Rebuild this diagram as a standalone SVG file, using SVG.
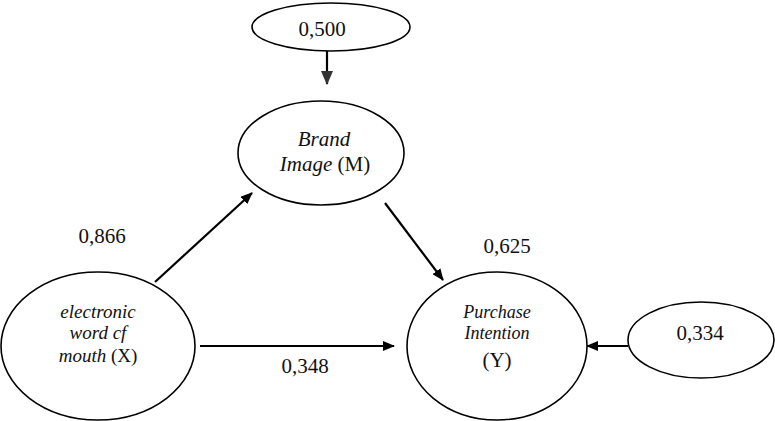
<svg xmlns="http://www.w3.org/2000/svg" width="775" height="421" viewBox="0 0 775 421">
<style>
.node{fill:#fff;stroke:#000;stroke-width:1.6}
text{font-family:'Liberation Serif','Times New Roman',Times,serif;fill:#111;text-anchor:middle}
.it{font-style:italic}
.num{font-size:21px}
.edge{stroke:#000;stroke-width:2.2;fill:none}
</style>
<defs>
<marker id="ah" viewBox="0 0 12 10" refX="11" refY="5" markerWidth="12" markerHeight="10" markerUnits="userSpaceOnUse" orient="auto">
<path d="M0,0 L12,5 L0,10 Z" fill="#000"/>
</marker>
<marker id="ahg" viewBox="0 0 14 12" refX="13" refY="6" markerWidth="14" markerHeight="12" markerUnits="userSpaceOnUse" orient="auto">
<path d="M0,0 L14,6 L0,12 Z" fill="#333"/>
</marker>
</defs>
<g id="connectors">
<line class="edge" x1="327" y1="51" x2="327" y2="84" marker-end="url(#ahg)"/>
<line class="edge" x1="155" y1="282" x2="252" y2="193" marker-end="url(#ah)"/>
<line class="edge" x1="385" y1="203" x2="443" y2="280" marker-end="url(#ah)"/>
<line class="edge" x1="200" y1="346" x2="394" y2="346" marker-end="url(#ah)"/>
<line class="edge" x1="628" y1="346" x2="587" y2="346" marker-end="url(#ah)"/>
</g>
<g id="err-m">
<ellipse class="node" cx="331" cy="27" rx="79" ry="24"/>
<text class="num" x="322" y="36">0,500</text>
</g>
<g id="brand-image">
<ellipse class="node" cx="321" cy="153" rx="83" ry="52"/>
<text x="324" y="146" font-size="21"><tspan class="it">Brand</tspan></text>
<text x="325" y="171" font-size="21"><tspan class="it">Image</tspan> (M)</text>
</g>
<g id="ewom">
<ellipse class="node" cx="98" cy="346" rx="97" ry="74"/>
<text x="98" y="318" font-size="19"><tspan class="it">electronic</tspan></text>
<text x="98" y="339" font-size="19"><tspan class="it">word cf</tspan></text>
<text x="98" y="362" font-size="19"><tspan class="it">mouth</tspan> (X)</text>
</g>
<g id="purchase-intention">
<ellipse class="node" cx="497" cy="346" rx="90" ry="74"/>
<text x="497" y="318" font-size="18"><tspan class="it">Purchase</tspan></text>
<text x="497" y="339" font-size="18"><tspan class="it">Intention</tspan></text>
<text x="497" y="367" font-size="21">(Y)</text>
</g>
<g id="err-y">
<ellipse class="node" cx="701" cy="340" rx="73" ry="38"/>
<text class="num" x="700" y="340">0,334</text>
</g>
<g id="labels">
<text class="num" x="102" y="243">0,866</text>
<text class="num" x="305" y="373">0,348</text>
<text class="num" x="507" y="253" font-size="22">0,625</text>
</g>
</svg>
